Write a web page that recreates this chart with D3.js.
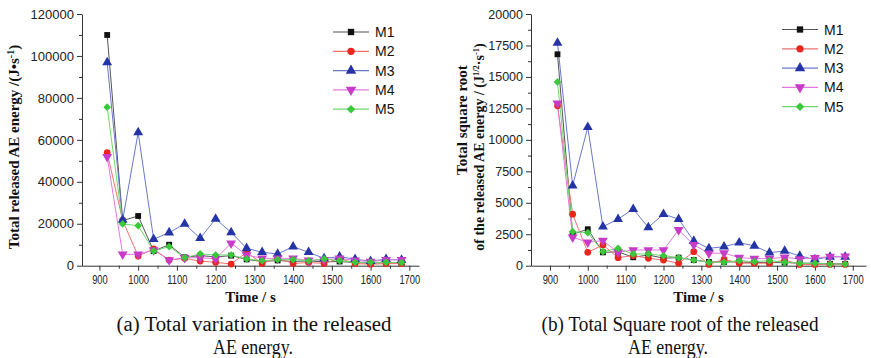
<!DOCTYPE html>
<html>
<head>
<meta charset="utf-8">
<script src="https://cdn.jsdelivr.net/npm/d3@7"></script>
<style>
  body { margin: 0; background: #fff; }
  svg { display: block; }
</style>
</head>
<body>
<svg id="chart" width="871" height="358"></svg>
<script>
// time of each acquisition window (s)
const times = [920, 960, 1000, 1040, 1080, 1120, 1160, 1200, 1240, 1280,
               1320, 1360, 1400, 1440, 1480, 1520, 1560, 1600, 1640, 1680];
const seriesNames = ["M1", "M2", "M3", "M4", "M5"];

// (a) total released AE energy, J·s^-1
const energyM1 = [110000, 21500, 23700, 7000, 10000, 4000, 4800, 4200, 4800, 3000, 2000, 2500, 2000, 2300, 1800, 2000, 1500, 1200, 1500, 1200];
const energyM2 = [53900, 21500, 4600, 8000, 2700, 3500, 2200, 1600, 800, 6400, 1100, 3500, 1100, 1500, 1100, 3500, 1000, 700, 1000, 1000];
const energyM3 = [96900, 21800, 63500, 12600, 15800, 19900, 13100, 22300, 15900, 8300, 6400, 5600, 9100, 6400, 3500, 4300, 3100, 2200, 3100, 2700];
const energyM4 = [51900, 5400, 5400, 7500, 2700, 3800, 3800, 3300, 10700, 5100, 3500, 3500, 3500, 2500, 2800, 3500, 2500, 2000, 2800, 2800];
const energyM5 = [75600, 19900, 19100, 7000, 9100, 3800, 5600, 5100, 5100, 3200, 2400, 2900, 2900, 2400, 3200, 2400, 1600, 1600, 1600, 1500];

// (b) total square root of released AE energy, J^1/2·s^-1
const sqrtM1 = [16800, 2500, 2900, 1060, 1100, 670, 850, 600, 640, 450, 300, 300, 300, 250, 250, 250, 200, 200, 150, 150];
const sqrtM2 = [12700, 4090, 1060, 1650, 640, 800, 590, 450, 190, 1110, 100, 510, 200, 200, 200, 450, 100, 100, 100, 100];
const sqrtM3 = [17700, 6360, 11000, 3100, 3700, 4500, 3050, 4100, 3700, 1960, 1380, 1510, 1830, 1570, 1030, 1170, 770, 500, 700, 700];
const sqrtM4 = [12900, 2260, 1860, 1990, 1060, 1250, 1250, 1250, 2840, 1650, 990, 1000, 640, 560, 560, 670, 530, 620, 720, 740];
const sqrtM5 = [14600, 2700, 2620, 1110, 1380, 930, 930, 800, 640, 450, 270, 270, 400, 320, 400, 270, 190, 190, 130, 130];

const xTicks = [900, 1000, 1100, 1200, 1300, 1400, 1500, 1600, 1700];
const xMinorTicks = [950, 1050, 1150, 1250, 1350, 1450, 1550, 1650];
const yTicksA = [0, 20000, 40000, 60000, 80000, 100000, 120000];
const yTicksB = [0, 2500, 5000, 7500, 10000, 12500, 15000, 17500, 20000];

const markColors = ["#111111", "#e8261e", "#2434a6", "#c83ac8", "#3cc83c"];
const lineColors = ["#555555", "#f27070", "#6a78cc", "#e07ae0", "#70d870"];
const shapes = [
  {type: d3.symbolSquare, size: 34, rot: 0},
  {type: d3.symbolCircle, size: 36, rot: 0},
  {type: d3.symbolTriangle, size: 42, rot: 0},
  {type: d3.symbolTriangle, size: 42, rot: 180},
  {type: d3.symbolSquare, size: 30, rot: 45}
];

const svg = d3.select("#chart");
const sans = "'Liberation Sans', Arial, sans-serif";
const serif = "'Liberation Serif', 'Times New Roman', serif";

function drawPanel(opt) {
  const g = svg.append("g");
  const x = d3.scaleLinear().domain(opt.xDomain).range(opt.xRange);
  const y = d3.scaleLinear().domain(opt.yDomain).range([265.7, 14]);
  const y0 = y(0);

  // x axis
  const xa = g.append("g").attr("transform", `translate(0,${y0})`)
    .call(d3.axisBottom(x).tickValues(xTicks).tickSize(5).tickSizeOuter(0).tickPadding(4).tickFormat(d3.format("d")));
  xa.selectAll("text")
    .attr("font-family", sans).attr("font-size", 13).attr("fill", "#222")
    .attr("transform", "scale(0.72,1)");
  g.append("g").attr("transform", `translate(0,${y0})`)
    .call(d3.axisBottom(x).tickValues(xMinorTicks).tickSize(3).tickSizeOuter(0).tickFormat(""))
    .select(".domain").remove();

  // y axis
  const ya = g.append("g").attr("transform", `translate(${opt.xRange[0]},0)`)
    .call(d3.axisLeft(y).tickValues(opt.yTicks).tickSize(5).tickSizeOuter(0).tickPadding(3).tickFormat(d3.format("d")));
  ya.selectAll("text").attr("font-family", sans).attr("font-size", opt.yFont).attr("fill", "#222");
  g.append("g").attr("transform", `translate(${opt.xRange[0]},0)`)
    .call(d3.axisLeft(y).tickValues(opt.yMinor).tickSize(3).tickSizeOuter(0).tickFormat(""))
    .select(".domain").remove();
  g.selectAll(".domain, .tick line").attr("stroke", "#333");

  // series
  const line = d3.line().x((d, i) => x(times[i])).y(d => y(d));
  opt.series.forEach((vals, k) => {
    g.append("path").attr("d", line(vals))
      .attr("fill", "none").attr("stroke", lineColors[k]).attr("stroke-width", 1);
  });
  opt.series.forEach((vals, k) => {
    const sym = d3.symbol().type(shapes[k].type).size(shapes[k].size);
    g.append("g").selectAll("path").data(vals).join("path")
      .attr("d", sym)
      .attr("transform", (d, i) => `translate(${x(times[i])},${y(d)}) rotate(${shapes[k].rot})`)
      .attr("fill", markColors[k]);
  });

  // legend
  seriesNames.forEach((name, k) => {
    const ly = opt.legend.y + k * 19.3;
    g.append("line").attr("x1", opt.legend.x).attr("x2", opt.legend.x + 36)
      .attr("y1", ly).attr("y2", ly).attr("stroke", lineColors[k]).attr("stroke-width", 1.2);
    g.append("path").attr("d", d3.symbol().type(shapes[k].type).size(shapes[k].size + 6)())
      .attr("transform", `translate(${opt.legend.x + 18},${ly}) rotate(${shapes[k].rot})`)
      .attr("fill", markColors[k]);
    g.append("text").attr("x", opt.legend.x + 42).attr("y", ly).attr("dy", "0.36em")
      .attr("font-family", sans).attr("font-size", 14).attr("fill", "#111").text(name);
  });

  // x title
  const cx = (opt.xRange[0] + opt.xRange[1]) / 2;
  g.append("text").attr("x", cx).attr("y", 302)
    .attr("text-anchor", "middle").attr("font-family", serif).attr("font-weight", "bold")
    .attr("font-size", 15).attr("fill", "#111").text("Time / s");

  // caption
  opt.caption.forEach((c, i) => {
    g.append("text").attr("x", c.x).attr("y", 331 + i * 23)
      .attr("text-anchor", "middle").attr("font-family", serif).attr("font-size", 20)
      .attr("fill", "#111").attr("textLength", c.w).attr("lengthAdjust", "spacingAndGlyphs")
      .text(c.t);
  });
  return g;
}

const gA = drawPanel({
  xDomain: [855, 1725], xRange: [82, 419],
  yDomain: [0, 120000], yTicks: yTicksA, yMinor: [10000, 30000, 50000, 70000, 90000, 110000], yFont: 13,
  series: [energyM1, energyM2, energyM3, energyM4, energyM5],
  legend: {x: 333, y: 32},
  caption: [{t: "(a) Total variation in the released", x: 254, w: 275}, {t: "AE energy.", x: 253, w: 80}]
});
const tA = gA.append("text").attr("transform", "translate(19,147) rotate(-90)")
  .attr("text-anchor", "middle").attr("font-family", serif).attr("font-weight", "bold")
  .attr("font-size", 15).attr("fill", "#111");
tA.append("tspan").text("Total released AE energy /(J\u2022s");
tA.append("tspan").attr("baseline-shift", "super").attr("font-size", 10).text("-1");
tA.append("tspan").text(")");

const gB = drawPanel({
  xDomain: [850, 1735], xRange: [531, 866],
  yDomain: [0, 20000], yTicks: yTicksB, yMinor: [1250, 3750, 6250, 8750, 11250, 13750, 16250, 18750], yFont: 12.5,
  series: [sqrtM1, sqrtM2, sqrtM3, sqrtM4, sqrtM5],
  legend: {x: 782, y: 29.5},
  caption: [{t: "(b) Total Square root of the released", x: 680, w: 277}, {t: "AE energy.", x: 668, w: 80}]
});
gB.append("text").attr("transform", "translate(467,120) rotate(-90)")
  .attr("text-anchor", "middle").attr("font-family", serif).attr("font-weight", "bold")
  .attr("font-size", 15).attr("fill", "#111").text("Total square root");
const tB = gB.append("text").attr("transform", "translate(484,147) rotate(-90)")
  .attr("text-anchor", "middle").attr("font-family", serif).attr("font-weight", "bold")
  .attr("font-size", 14).attr("fill", "#111");
tB.append("tspan").text("of the released AE energy / (J");
tB.append("tspan").attr("baseline-shift", "super").attr("font-size", 8.5).text("1/2");
tB.append("tspan").text("\u00b7s");
tB.append("tspan").attr("baseline-shift", "super").attr("font-size", 8.5).text("-1");
tB.append("tspan").text(")");
</script>
</body>
</html>
